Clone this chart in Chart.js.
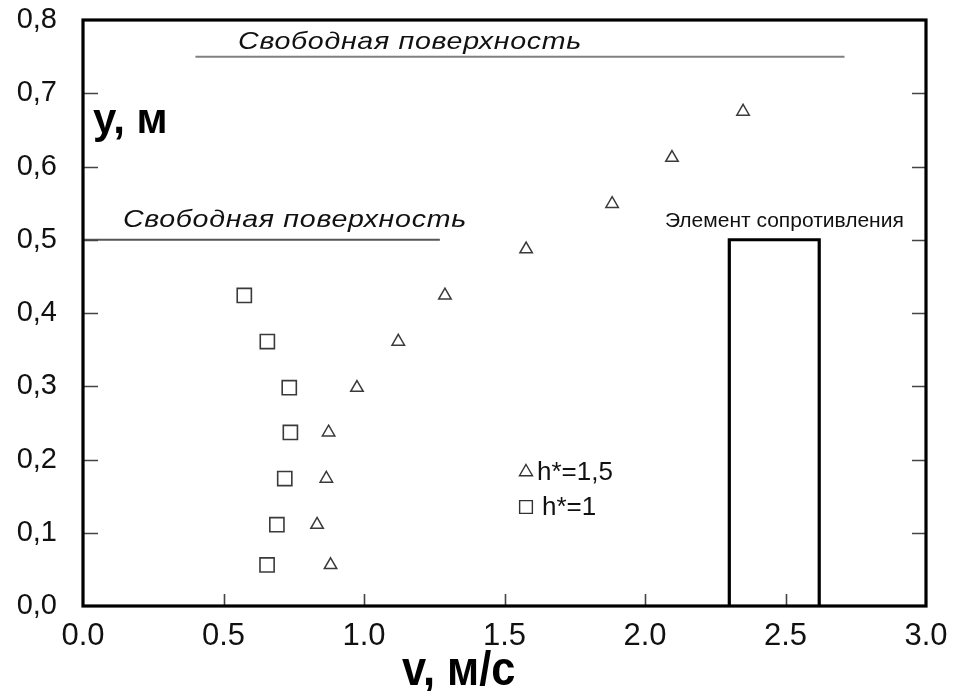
<!DOCTYPE html>
<html><head><meta charset="utf-8">
<script src="https://cdn.jsdelivr.net/npm/chart.js@4"></script>
<style>html,body{margin:0;padding:0;background:#fff}</style>
</head><body>
<canvas id="c" width="955" height="691"></canvas>
<script>
// ---- data ----
const yLevels = [0.056, 0.111, 0.174, 0.237, 0.298, 0.361, 0.424, 0.487, 0.549, 0.612, 0.675];
const vH1  = [0.655, 0.690, 0.718, 0.738, 0.734, 0.656, 0.574];          // h*=1 (squares)
const vH15 = [0.881, 0.833, 0.866, 0.874, 0.975, 1.122, 1.288, 1.577, 1.883, 2.096, 2.349]; // h*=1,5 (triangles)
const xTicks = [0, 0.5, 1, 1.5, 2, 2.5, 3];
const yTicks = [0, 0.1, 0.2, 0.3, 0.4, 0.5, 0.6, 0.7, 0.8];
const surfaceUpperV = [0.40, 2.71];
const surfaceUpperY = 0.75;
const surfaceLowerV = [0.0, 1.27];
const surfaceLowerY = 0.5;
const elementV = [2.30, 2.62];
const elementTop = 0.5;
const labelSurface = 'Свободная поверхность';
const labelElement = 'Элемент сопротивления';
const labelY = 'y, м';
const labelX = 'v, м/с';
const legendLabels = ['h*=1,5', 'h*=1'];

const FONT = '"Liberation Sans", Arial, sans-serif';

const ptsH1 = vH1.map((v, i) => ({x: v, y: yLevels[i]}));
const ptsH15 = vH15.map((v, i) => ({x: v, y: yLevels[i]}));

function stretchedText(ctx, text, x, y, sx, sy) {
  ctx.save();
  ctx.translate(x, y);
  ctx.scale(sx, sy);
  ctx.fillText(text, 0, 0);
  ctx.restore();
}

const decor = {
  id: 'decor',
  afterDraw(chart) {
    const ctx = chart.ctx, a = chart.chartArea;
    const xs = chart.scales.x, ys = chart.scales.y;
    ctx.save();
    // inner ticks
    ctx.strokeStyle = '#444'; ctx.lineWidth = 1.6;
    ctx.beginPath();
    yTicks.slice(1, -1).forEach(t => {
      const py = Math.round(ys.getPixelForValue(t)) + 0.5;
      ctx.moveTo(a.left, py); ctx.lineTo(a.left + 15, py);
      ctx.moveTo(a.right, py); ctx.lineTo(a.right - 14, py);
    });
    xTicks.slice(1, -1).forEach(t => {
      const px = Math.round(xs.getPixelForValue(t)) + 0.5;
      ctx.moveTo(px, a.bottom); ctx.lineTo(px, a.bottom - 12);
    });
    ctx.stroke();
    // frame
    ctx.strokeStyle = '#000'; ctx.lineWidth = 3.2;
    ctx.strokeRect(a.left, a.top, a.right - a.left, a.bottom - a.top);

    // annotations
    ctx.fillStyle = '#111';
    ctx.textBaseline = 'alphabetic';
    ctx.textAlign = 'left';
    ctx.font = 'italic 24px ' + FONT;
    try { ctx.letterSpacing = '0.6px'; } catch (e) {}
    stretchedText(ctx, labelSurface, xs.getPixelForValue(0.552), ys.getPixelForValue(0.7605), 1.19, 1);
    stretchedText(ctx, labelSurface, xs.getPixelForValue(0.142), ys.getPixelForValue(0.518), 1.19, 1);
    try { ctx.letterSpacing = '0px'; } catch (e) {}
    ctx.font = '21px ' + FONT;
    ctx.fillText(labelElement, xs.getPixelForValue(2.071), ys.getPixelForValue(0.518));

    // axis titles
    ctx.fillStyle = '#000';
    ctx.font = 'bold 42px ' + FONT;
    ctx.fillText(labelY, a.left + 10, a.top + 113);
    ctx.font = 'bold 43px ' + FONT;
    stretchedText(ctx, labelX, a.left + 319, a.bottom + 79, 1.01, 1.12);

    // legend
    const lx = a.left + 443, ly1 = a.top + 452, ly2 = a.top + 487;
    ctx.strokeStyle = '#333'; ctx.fillStyle = 'rgba(0,0,0,0)'; ctx.lineWidth = 1.4;
    Chart.helpers.drawPoint(ctx, {pointStyle: 'triangle', radius: 7.5, rotation: 0, borderWidth: 1.4}, lx, ly1);
    Chart.helpers.drawPoint(ctx, {pointStyle: 'rect', radius: 9, rotation: 0, borderWidth: 1.4}, lx, ly2);
    ctx.fillStyle = '#111';
    ctx.font = '26px ' + FONT;
    ctx.textBaseline = 'middle';
    ctx.fillText(legendLabels[0], lx + 11, ly1 + 1);
    ctx.fillText(legendLabels[1], lx + 16, ly2 + 1);
    ctx.restore();
  }
};

new Chart(document.getElementById('c'), {
  type: 'scatter',
  data: {
    datasets: [
      { label: 'h*=1,5', data: ptsH15, pointStyle: 'triangle', radius: 7.2,
        borderColor: '#3a3a3a', backgroundColor: 'rgba(0,0,0,0)', borderWidth: 1.5 },
      { label: 'h*=1', data: ptsH1, pointStyle: 'rect', radius: 10,
        borderColor: '#3a3a3a', backgroundColor: 'rgba(0,0,0,0)', borderWidth: 1.6 },
      { label: 'surfaceUpper', data: surfaceUpperV.map(v => ({x: v, y: surfaceUpperY})),
        showLine: true, pointRadius: 0, borderColor: '#808080', borderWidth: 2 },
      { label: 'surfaceLower', data: surfaceLowerV.map(v => ({x: v, y: surfaceLowerY})),
        showLine: true, pointRadius: 0, borderColor: '#555', borderWidth: 2 },
      { label: 'element', data: [
          {x: elementV[0], y: 0}, {x: elementV[0], y: elementTop},
          {x: elementV[1], y: elementTop}, {x: elementV[1], y: 0}],
        showLine: true, pointRadius: 0, borderColor: '#000', borderWidth: 3.2 }
    ]
  },
  options: {
    responsive: false,
    animation: false,
    events: [],
    layout: { padding: { left: 0, right: 29, top: 20, bottom: 0 } },
    plugins: { legend: { display: false }, tooltip: { enabled: false } },
    scales: {
      x: {
        type: 'linear', min: 0, max: 3,
        afterFit(s) { s.height = 85; s.paddingLeft = 0; s.paddingRight = 0; },
        afterBuildTicks(s) { s.ticks = xTicks.map(v => ({value: v})); },
        grid: { display: false, drawTicks: false },
        border: { display: false },
        ticks: { padding: 12, color: '#111', font: { family: FONT, size: 31 },
                 callback: v => Number(v).toFixed(1), maxRotation: 0, autoSkip: false }
      },
      y: {
        type: 'linear', min: 0, max: 0.8,
        afterFit(s) { s.width = 83; s.paddingTop = 0; s.paddingBottom = 0; },
        afterBuildTicks(s) { s.ticks = yTicks.map(v => ({value: v})); },
        grid: { display: false, drawTicks: false },
        border: { display: false },
        ticks: { padding: 26, color: '#111', font: { family: FONT, size: 29 },
                 callback: v => Number(v).toFixed(1).replace('.', ','), autoSkip: false }
      }
    }
  },
  plugins: [decor]
});
</script>
</body></html>
